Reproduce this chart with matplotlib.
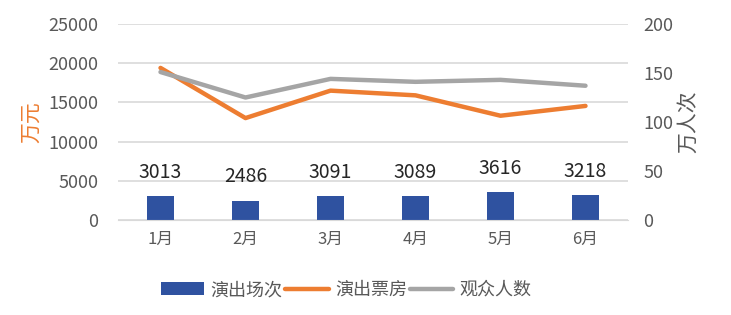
import matplotlib.pyplot as plt
import numpy as np

plt.rcParams['font.family'] = ['Noto Sans CJK SC', 'DejaVu Sans']

months = ["1月", "2月", "3月", "4月", "5月", "6月"]
shows = [3013, 2486, 3091, 3089, 3616, 3218]          # 演出场次
box_office = [19400, 13000, 16500, 15900, 13300, 14550]  # 演出票房 (万元)
audience = [151, 125, 144, 141, 143, 137]              # 观众人数 (万人次)

blue = "#2F52A0"
orange = "#ED7D31"
gray = "#A5A5A5"
txt = "#595959"

fig = plt.figure(figsize=(7.31, 3.15), dpi=100)
ax = fig.add_axes([118 / 731, 95 / 315, 510 / 731, 196 / 315])
ax2 = ax.twinx()

x = np.arange(len(months))
bars = ax.bar(x, shows, width=0.31, color=blue, zorder=2)

for xi, v in zip(x, shows):
    ax.annotate(str(v), (xi, v), xytext=(0, 17), textcoords="offset points",
                ha="center", va="center", fontsize=14, color="#262626")

# both lines drawn on the right axis so they sit above the bars;
# box office is rescaled from the left (0-25000) to the right (0-200) scale
line1, = ax2.plot(x, np.array(box_office) / 25000 * 200, color=orange, lw=3.2,
                  solid_capstyle="round")
line2, = ax2.plot(x, audience, color=gray, lw=3.2, solid_capstyle="round")

ax.set_xlim(-0.5, 5.5)
ax.set_ylim(0, 25000)
ax.set_yticks(range(0, 25001, 5000))
ax2.set_ylim(0, 200)
ax2.set_yticks(range(0, 201, 50))
ax.set_xticks(x)
ax.set_xticklabels(months)

ax.grid(axis="y", color="#D9D9D9", lw=1.2, zorder=0)
ax.set_axisbelow(True)
ax.set_zorder(1)
ax2.set_zorder(2)
ax2.patch.set_visible(False)

for a in (ax, ax2):
    for s in a.spines.values():
        s.set_visible(False)
    a.tick_params(length=0, labelsize=13, colors=txt)
ax.spines["bottom"].set_visible(True)
ax.spines["bottom"].set_color("#D9D9D9")
ax.tick_params(axis="x", pad=8, labelsize=12)
ax.tick_params(axis="y", pad=14)
ax2.tick_params(axis="y", pad=11)

ax.set_ylabel("万元", color=orange, fontsize=15, labelpad=5, fontweight="light")
ax2.set_ylabel("万人次", color=txt, fontsize=15, labelpad=3, fontweight="light")

fig.legend([bars, line1, line2], ["演出场次", "演出票房", "观众人数"],
           loc="center", bbox_to_anchor=(346 / 731, 1 - 290 / 315), ncol=3,
           frameon=False, fontsize=13, handlelength=2.4, handletextpad=0.35,
           columnspacing=0.15, labelcolor=txt)

fig.savefig("out.png", dpi=100)
